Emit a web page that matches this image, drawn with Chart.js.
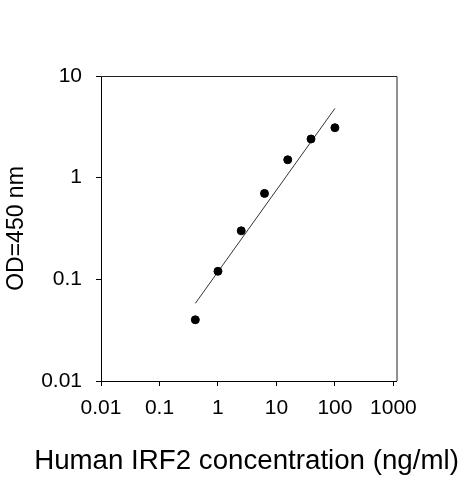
<!DOCTYPE html>
<html>
<head>
<meta charset="utf-8">
<script src="https://cdn.jsdelivr.net/npm/chart.js@4"></script>
<style>
  html, body { margin: 0; padding: 0; background: #fff; }
  #chart { display: block; }
</style>
</head>
<body>
<canvas id="chart" width="463" height="480"></canvas>
<script>
/* ---- Data ---- */
const concX = [0.41, 1, 2.5, 6.25, 15.6, 39, 100];
const odY = [0.04, 0.12, 0.3, 0.7, 1.5, 2.4, 3.1];
const fitX = [0.41, 100];
const fitY = [0.058, 4.8];
const xTicks = [0.01, 0.1, 1, 10, 100, 1000];
const yTicks = [0.01, 0.1, 1, 10];

const FONT = "'Liberation Sans', Arial, sans-serif";
const X_TITLE = "Human IRF2 concentration (ng/ml)";

// box around the plot (top + right edges) and the wide x title,
// which Chart.js would squeeze to the plot width
const frame = {
  id: "frame",
  afterDatasetsDraw(chart) {
    const { ctx, chartArea: a } = chart;
    ctx.save();
    ctx.strokeStyle = "#222";
    ctx.lineWidth = 1;
    ctx.beginPath();
    ctx.moveTo(a.left, a.top + 0.5);
    ctx.lineTo(a.right + 0.5, a.top + 0.5);
    ctx.lineTo(a.right + 0.5, a.bottom);
    ctx.stroke();
    ctx.restore();
  },
  afterDraw(chart) {
    const { ctx } = chart;
    ctx.save();
    ctx.fillStyle = "#000";
    ctx.font = "27.7px " + FONT;
    ctx.textAlign = "center";
    ctx.textBaseline = "middle";
    ctx.fillText(X_TITLE, 246.5, 461);
    ctx.restore();
  }
};

const onlyTicks = list => scale => {
  scale.ticks = list.map(v => ({ value: v }));
};

new Chart(document.getElementById("chart"), {
  type: "scatter",
  data: {
    datasets: [
      {
        data: concX.map((x, i) => ({ x, y: odY[i] })),
        backgroundColor: "#000",
        borderColor: "#000",
        pointRadius: 4,
        pointHoverRadius: 4
      },
      {
        data: fitX.map((x, i) => ({ x, y: fitY[i] })),
        showLine: true,
        borderColor: "#333",
        borderWidth: 1,
        pointRadius: 0
      }
    ]
  },
  options: {
    responsive: false,
    animation: false,
    layout: { padding: { top: 76, right: 66.5, left: 0, bottom: 0 } },
    plugins: { legend: { display: false }, tooltip: { enabled: false } },
    scales: {
      x: {
        type: "logarithmic",
        min: 0.01,
        max: 1130,
        afterBuildTicks: onlyTicks(xTicks),
        afterFit: s => { s.height = 99; },
        grid: { drawOnChartArea: false, drawTicks: true, tickLength: 5, tickColor: "#000" },
        border: { color: "#000", width: 1 },
        ticks: {
          color: "#000",
          padding: 10,
          maxRotation: 0,
          autoSkip: false,
          font: { family: FONT, size: 21 },
          callback: v => String(v)
        },
        title: { display: false }
      },
      y: {
        type: "logarithmic",
        min: 0.01,
        max: 10,
        afterBuildTicks: onlyTicks(yTicks),
        afterFit: s => { s.width = 101; },
        grid: { drawOnChartArea: false, drawTicks: true, tickLength: 5, tickColor: "#000" },
        border: { color: "#000", width: 1 },
        ticks: {
          color: "#000",
          padding: 14,
          autoSkip: false,
          font: { family: FONT, size: 21 },
          callback: v => String(v)
        },
        title: {
          display: true,
          text: "OD=450 nm",
          color: "#000",
          padding: { top: 3, bottom: 0 },
          font: { family: FONT, size: 23 }
        }
      }
    }
  },
  plugins: [frame]
});
</script>
</body>
</html>
